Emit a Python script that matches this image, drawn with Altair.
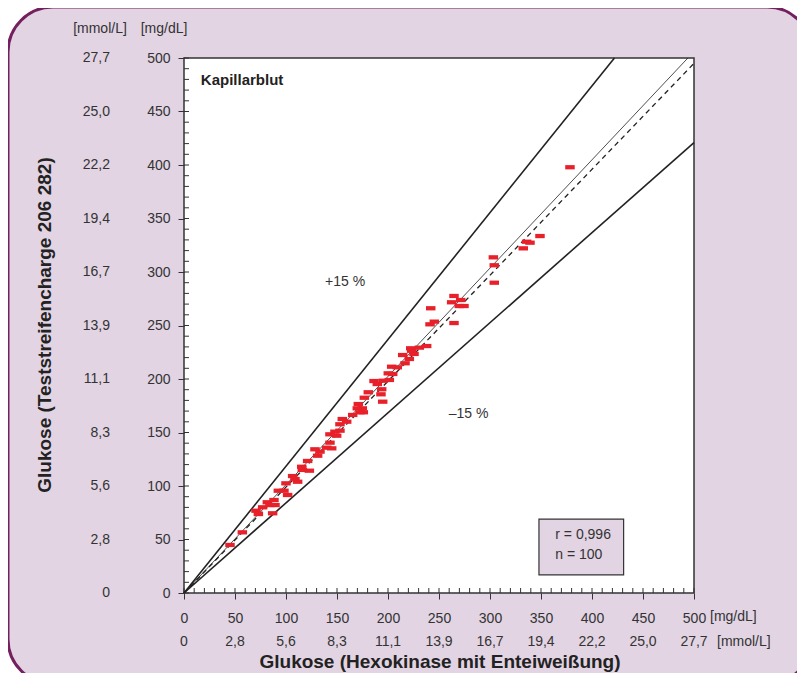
import altair as alt
import pandas as pd

# ---------------- data ----------------
ref_x = [45.1, 57.2, 70.6, 72.9, 77.1, 81.7, 84.3, 88.2, 89.2, 86.9, 92.5, 98.0, 101.6, 100.0,
         106.5, 108.8, 111.4, 115.4, 116.0, 122.9, 121.2, 128.4, 133.3, 131.0, 139.9, 144.8,
         143.1, 143.1, 148.0, 149.7, 152.9, 152.9, 155.2, 159.5, 165.4, 170.9, 169.9, 174.8,
         172.5, 175.8, 176.8, 180.7, 186.3, 189.5, 193.8, 193.1, 194.8, 195.4, 201.3, 200.3,
         204.6, 203.6, 209.1, 214.4, 216.7, 220.9, 222.3, 225.5, 223.2, 230.7, 237.9, 241.9,
         241.2, 245.4, 264.7, 262.4, 271.3, 269.9, 274.5, 264.7, 303.3, 304.2, 304.2, 332.6,
         335.9, 339.2, 349.0, 378.4]
strip_y = [44.9, 56.7, 76.9, 73.8, 80.1, 84.8, 82.2, 86.9, 82.2, 74.5, 95.6, 95.6, 91.6, 102.5,
           109.3, 106.5, 104.0, 118.0, 115.0, 114.3, 123.4, 134.3, 132.1, 128.3, 135.8, 135.2,
           140.5, 148.3, 150.8, 147.0, 151.7, 157.7, 162.6, 160.1, 166.4, 176.6, 172.6, 172.6,
           168.9, 168.9, 182.5, 187.6, 198.1, 195.3, 190.4, 185.7, 178.8, 198.4, 199.1, 205.3,
           204.7, 211.5, 210.9, 222.4, 214.7, 218.7, 228.7, 223.4, 226.4, 229.3, 230.8, 266.1,
           251.1, 253.6, 277.6, 271.7, 273.8, 268.2, 268.2, 252.3, 313.7, 306.3, 290.0, 322.1,
           328.3, 327.4, 333.6, 397.9]

tick_mg = [0, 50, 100, 150, 200, 250, 300, 350, 400, 450, 500]
tick_mmol = ["0", "2,8", "5,6", "8,3", "11,1", "13,9", "16,7", "19,4", "22,2", "25,0", "27,7"]
minor_ticks = list(range(0, 501, 10))

# reference lines (endpoints)
upper_x, upper_y = [0, 422], [0, 500]      # +15 %
lower_x, lower_y = [0, 500], [0, 421]      # -15 %
ident_x, ident_y = [0, 494], [0, 500]      # line of identity
regr_x, regr_y = [0, 500], [0, 495]        # regression (dashed)

annot_text = ["+15 %", "\u201315 %"]
annot_x = [158, 279]
annot_y = [291, 167]

stats_text = ["r = 0,996", "n = 100"]
stats_x = [364, 364]
stats_y = [54, 35.5]
box_x, box_x2, box_y, box_y2 = 348, 431, 17, 69

# ---------------- styling ----------------
W, H = 510, 535
LILAC = "#e2d4e3"
PURPLE = "#74205f"
DARK = "#333333"
RED = "#e8202a"
FONT = "Liberation Sans"
FS = 14

xs = alt.Scale(domain=[0, 500], nice=False, zero=False)
ys = alt.Scale(domain=[0, 500], nice=False, zero=False)

one = pd.DataFrame({"a": [0]})

panel = alt.Chart(one).mark_rect(
    fill=LILAC, stroke=PURPLE, strokeWidth=3, cornerRadius=45
).encode(x=alt.value(-176), x2=alt.value(628), y=alt.value(-51), y2=alt.value(626))

plotbg = alt.Chart(one).mark_rect(
    fill="white", stroke=DARK, strokeWidth=1.5
).encode(x=alt.value(0), x2=alt.value(W), y=alt.value(0), y2=alt.value(H))

mt = pd.DataFrame({"v": minor_ticks})
xminor = alt.Chart(mt).mark_rule(color=DARK, strokeWidth=1).encode(
    x=alt.X("v:Q", scale=xs), y=alt.value(H), y2=alt.value(H - 5))
yminor = alt.Chart(mt).mark_rule(color=DARK, strokeWidth=1).encode(
    y=alt.Y("v:Q", scale=ys), x=alt.value(0), x2=alt.value(5))


def line(xv, yv, **kw):
    d = pd.DataFrame({"x": xv, "y": yv})
    return alt.Chart(d).mark_line(color="#222222", **kw).encode(
        x=alt.X("x:Q", scale=xs), y=alt.Y("y:Q", scale=ys))


l_up = line(upper_x, upper_y, strokeWidth=1.6)
l_lo = line(lower_x, lower_y, strokeWidth=1.6)
l_id = line(ident_x, ident_y, strokeWidth=0.8)
l_rg = line(regr_x, regr_y, strokeWidth=1.3, strokeDash=[5, 4])

pts = alt.Chart(pd.DataFrame({"x": ref_x, "y": strip_y})).mark_point(
    shape="M-1,-0.45L1,-0.45L1,0.45L-1,0.45Z", filled=True, size=90, color=RED, opacity=1
).encode(x=alt.X("x:Q", scale=xs), y=alt.Y("y:Q", scale=ys))

# axes (mg/dL) drawn with real axes, above the background panel
axis_style = dict(values=tick_mg, tickSize=6, tickColor=DARK, tickWidth=1, domain=False,
                  grid=False, labelFont=FONT, labelFontSize=FS, labelColor=DARK, title=None,
                  zindex=2, labelFlush=False, labelOverlap=False)
axes = alt.Chart(one).mark_point(opacity=0).encode(
    x=alt.X("a:Q", scale=xs, axis=alt.Axis(labelPadding=12, **axis_style)),
    y=alt.Y("a:Q", scale=ys, axis=alt.Axis(labelPadding=8, **axis_style)),
)

mm = pd.DataFrame({"v": tick_mg, "t": tick_mmol})
y_mmol = alt.Chart(mm).mark_text(align="right", baseline="middle", font=FONT, fontSize=FS,
                                 color=DARK).encode(
    y=alt.Y("v:Q", scale=ys), x=alt.value(-74), text="t:N")
x_mmol = alt.Chart(mm).mark_text(align="center", baseline="middle", font=FONT, fontSize=FS,
                                 color=DARK).encode(
    x=alt.X("v:Q", scale=xs), y=alt.value(584), text="t:N")


def label(txt, x, y, **kw):
    base = dict(font=FONT, fontSize=FS, color=DARK, baseline="middle")
    base.update(kw)
    return alt.Chart(pd.DataFrame({"t": [txt]})).mark_text(**base).encode(
        x=alt.value(x), y=alt.value(y), text="t:N")


units = (label("[mmol/L]", -84, -29, align="center")
         + label("[mg/dL]", -20, -29, align="center")
         + label("[mg/dL]", 526, 559, align="left")
         + label("[mmol/L]", 533, 584, align="left"))

xtitle = label("Glukose (Hexokinase mit Enteiweißung)", 256, 604, align="center",
               fontSize=19, fontWeight="bold", color="#222222")
ytitle = label("Glukose (Teststreifencharge 206 282)", -139, 267, align="center",
               fontSize=19, fontWeight="bold", color="#222222", angle=270)

kap = alt.Chart(pd.DataFrame({"t": ["Kapillarblut"], "x": [16.5], "y": [479]})).mark_text(
    align="left", baseline="middle", font=FONT, fontSize=15, fontWeight="bold", color="#222222"
).encode(x=alt.X("x:Q", scale=xs), y=alt.Y("y:Q", scale=ys), text="t:N")

annots = alt.Chart(pd.DataFrame({"t": annot_text, "x": annot_x, "y": annot_y})).mark_text(
    align="center", baseline="middle", font=FONT, fontSize=FS, color=DARK
).encode(x=alt.X("x:Q", scale=xs), y=alt.Y("y:Q", scale=ys), text="t:N")

box = alt.Chart(pd.DataFrame({"x": [box_x], "x2": [box_x2], "y": [box_y], "y2": [box_y2]})).mark_rect(
    fill=LILAC, stroke=DARK, strokeWidth=1.2
).encode(x=alt.X("x:Q", scale=xs), x2="x2:Q", y=alt.Y("y:Q", scale=ys), y2="y2:Q")

stats = alt.Chart(pd.DataFrame({"t": stats_text, "x": stats_x, "y": stats_y})).mark_text(
    align="left", baseline="middle", font=FONT, fontSize=FS, color=DARK
).encode(x=alt.X("x:Q", scale=xs), y=alt.Y("y:Q", scale=ys), text="t:N")

chart = alt.layer(
    panel, plotbg, xminor, yminor, l_up, l_lo, l_id, l_rg, pts, kap, annots, box, stats,
    axes, y_mmol, x_mmol, units, xtitle, ytitle
).properties(
    width=W, height=H,
    padding={"left": 176, "top": 50, "right": 103, "bottom": 80},
    autosize=alt.AutoSizeParams(type="none"),
).configure(background="white").configure_view(stroke=None)

chart.save("out.html", embed_options={"renderer": "svg", "actions": False})
